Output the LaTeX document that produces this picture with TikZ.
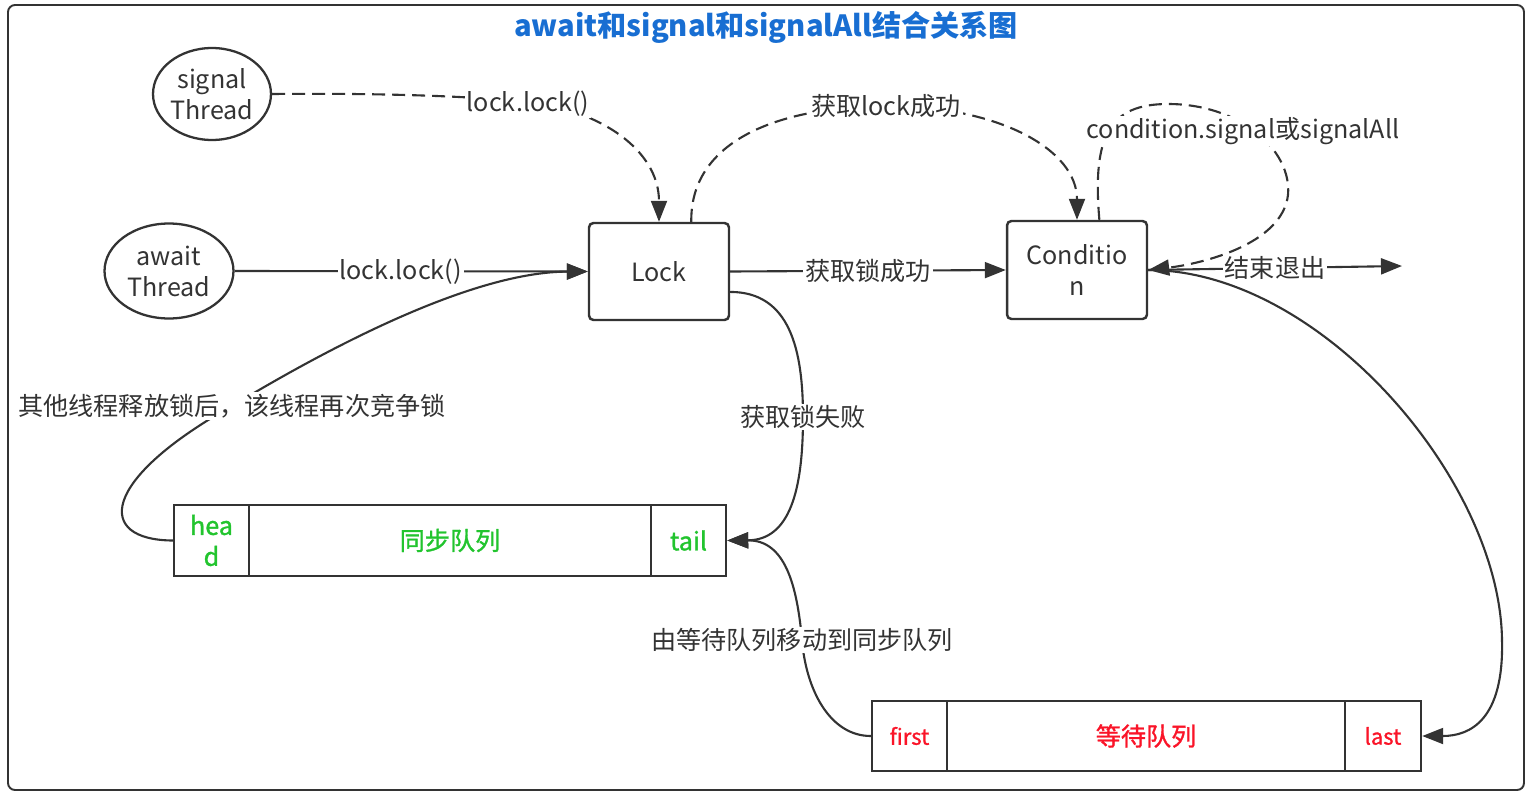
\documentclass[tikz,border=0pt]{standalone}
\usepackage{fontspec}
\setmainfont{Noto Sans CJK SC}
\newfontfamily\medfont[FakeBold=1.2]{Noto Sans CJK SC}
\usetikzlibrary{arrows.meta,shapes.geometric}
\definecolor{linegray}{RGB}{51,51,51}
\definecolor{titleblue}{RGB}{24,110,210}
\definecolor{qgreen}{RGB}{34,196,46}
\definecolor{qred}{RGB}{250,20,40}
\newcommand{\lblsize}{\fontsize{14.3pt}{17.6pt}\selectfont}
\tikzset{
  threadnode/.style={ellipse, draw=linegray, line width=1.3pt, inner sep=0pt, align=center, text=linegray, font=\lblsize},
  lockbox/.style={rectangle, rounded corners=2.5pt, draw=linegray, line width=1.4pt, inner sep=0pt, align=center, text=linegray, font=\lblsize, minimum width=2.8cm},
  qcell/.style={rectangle, draw=linegray, line width=1.4pt, inner sep=0pt, align=center, minimum height=1.42cm},
  edgelbl/.style={fill=white, inner sep=1pt, text=linegray, font=\lblsize},
  conn/.style={draw=linegray, line width=1.2pt, -{Triangle[length=0.42cm,width=0.32cm]}},
  dconn/.style={conn, dash pattern=on 0.26cm off 0.14cm},
}
\begin{document}
\begin{tikzpicture}[x=0.02cm, y=-0.02cm]
  \useasboundingbox (0,0) rectangle (1532,798);
  % Drawing frame
  \draw [draw=linegray, line width=1.1pt, rounded corners=4pt] (8,5) rectangle (1524,790);
  % Marking title
  \node [text=titleblue, font=\fontsize{16.6pt}{19pt}\selectfont\bfseries] (title) at (766,27) {await和signal和signalAll结合关系图};

  % Marking threads
  \node [threadnode, minimum width=2.36cm, minimum height=1.84cm] (sig) at (212,94) {signal\\Thread};
  \node [threadnode, minimum width=2.58cm, minimum height=1.9cm] (aw) at (169,271) {await\\Thread};

  % Marking Lock and Condition
  \node [lockbox, minimum height=1.94cm] (lock) at (659,271.5) {Lock};
  \node [lockbox, minimum height=1.96cm] (cond) at (1077,270) {Conditio\\n};
  \coordinate (exit) at (1402,266);

  % Marking sync queue
  \node [qcell, minimum width=1.5cm, text=qgreen, font=\lblsize\medfont] (head) at (211.5,540.5) {hea\\d};
  \node [qcell, minimum width=8.04cm, text=qgreen, font=\lblsize\medfont] (syncq) at (450,540.5) {同步队列};
  \node [qcell, minimum width=1.5cm, text=qgreen, font=\lblsize\medfont] (tail) at (688.5,540.5) {tail};

  % Marking wait queue
  \node [qcell, minimum width=1.5cm, minimum height=1.4cm, text=qred, font=\fontsize{12.5pt}{14pt}\selectfont\medfont] (first) at (909.5,736) {first};
  \node [qcell, minimum width=7.96cm, minimum height=1.4cm, text=qred, font=\lblsize\medfont] (waitq) at (1146,736) {等待队列};
  \node [qcell, minimum width=1.52cm, minimum height=1.4cm, text=qred, font=\fontsize{12.5pt}{14pt}\selectfont\medfont] (last) at (1383,736) {last};

  % Drawing signal Thread to Lock
  \draw [dconn] (sig.east) .. controls (380,93) and (470,96) .. (528,102) .. controls (600,110) and (659,150) .. (lock.north);
  \node [edgelbl] (lkA) at (528,104) {lock.lock()};

  % Drawing await Thread to Lock
  \draw [conn] (aw.east) -- (lock.west) node [edgelbl, pos=0.47] (lkB) {lock.lock()};

  % Drawing Lock to Condition
  \draw [conn] (lock.east) -- (cond.west) node [edgelbl, midway] (lkC) {获取锁成功};

  % Drawing Lock to Condition, dashed
  \draw [dconn] (lock.57) .. controls (690,145) and (770,107) .. (886,106) node [edgelbl] (lkD) {获取lock成功}
    .. controls (1000,106) and (1077,150) .. (cond.north);

  % Drawing Condition loop
  \draw [dconn] (cond.66) .. controls (1092,135) and (1110,104) .. (1168,104)
    .. controls (1240,104) and (1292,150) .. (1288,195)
    .. controls (1282,245) and (1200,264) .. (cond.east);
  \node [edgelbl] (lkE) at (1243,131) {condition.signal或signalAll};

  % Drawing Condition to exit
  \draw [conn] (cond.east) -- (exit) node [edgelbl, midway] (lkF) {结束退出};

  % Drawing Lock to tail
  \draw [conn] (lock.-16) .. controls (790,292) and (803,350) .. (803,417) node [edgelbl] (lkG) {获取锁失败}
    .. controls (803,490) and (790,540) .. (tail.east);

  % Drawing head to Lock
  \draw [conn] (head.west) .. controls (95,540) and (100,480) .. (232,406) node [edgelbl] (lkH) {其他线程释放锁后，该线程再次竞争锁}
    .. controls (350,335) and (480,272) .. (lock.west);

  % Drawing Condition to last
  \draw [conn] (cond.east) .. controls (1320,270) and (1500,480) .. (1502,640)
    .. controls (1504,720) and (1470,736) .. (last.east);

  % Drawing first to tail
  \draw [conn] (first.west) .. controls (830,736) and (806,690) .. (802,640) node [edgelbl] (lkJ) {由等待队列移动到同步队列}
    .. controls (797,585) and (785,540) .. (tail.east);
\end{tikzpicture}
\end{document}
